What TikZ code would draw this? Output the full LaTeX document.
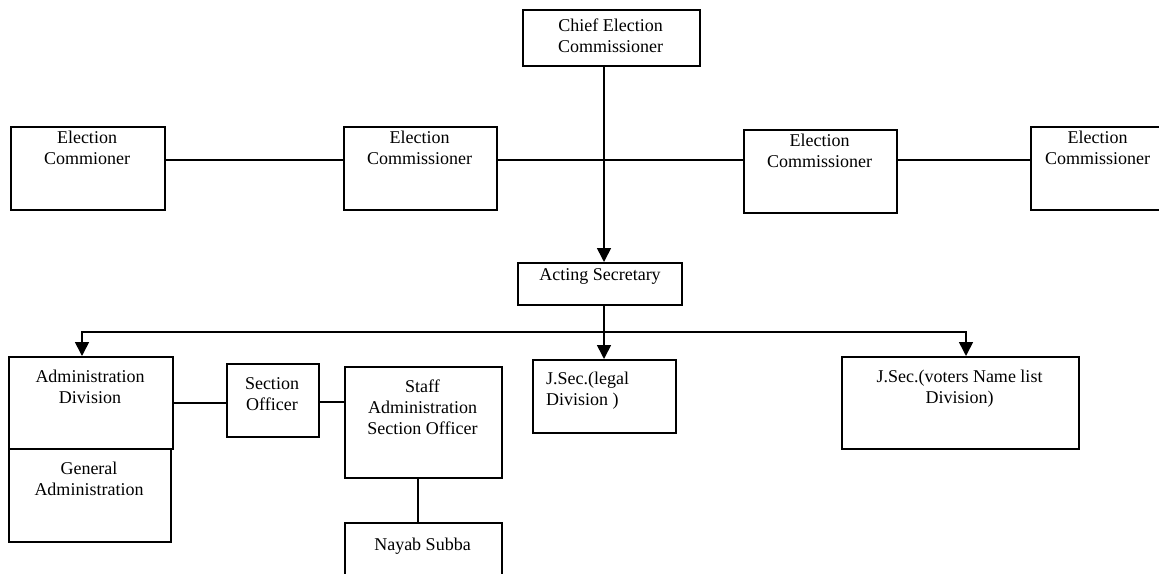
\documentclass[tikz,border=0pt]{standalone}
\usepackage{fontspec}
\setmainfont{Liberation Serif}
\usetikzlibrary{arrows.meta}
\tikzset{
  box/.style={draw, line width=1.6pt, anchor=north west, inner sep=0pt},
  lbl/.style={anchor=north, inner sep=0pt, align=center, font=\fontsize{18}{21}\selectfont, execute at begin node={\rule{0pt}{13pt}}},
  lbll/.style={lbl, anchor=north west, align=left},
  conn/.style={line width=1.6pt},
  arr/.style={line width=1.6pt, -{Triangle[length=14pt,width=14pt]}}
}
\begin{document}
\begin{tikzpicture}[x=1pt,y=-1pt]
\useasboundingbox (0,0) rectangle (1159,573);
\clip (0,0) rectangle (1159,573);
% boxes
\node[box, minimum width=177pt, minimum height=56pt] (chief) at (522,9) {};
\node[box, minimum width=154pt, minimum height=83pt] (ec1) at (10,126) {};
\node[box, minimum width=153pt, minimum height=83pt] (ec2) at (343,126) {};
\node[box, minimum width=153pt, minimum height=83pt] (ec3) at (743,129) {};
\node[box, minimum width=135pt, minimum height=83pt] (ec4) at (1030,126) {};
\node[box, minimum width=164pt, minimum height=42pt] (acting) at (517,262) {};
\node[box, minimum width=164pt, minimum height=92pt] (admin) at (8,356) {};
\node[box, minimum width=162pt, minimum height=93pt] (general) at (8,448) {};
\node[box, minimum width=92pt, minimum height=73pt] (section) at (226,363) {};
\node[box, minimum width=157pt, minimum height=111pt] (staff) at (344,366) {};
\node[box, minimum width=157pt, minimum height=70pt] (nayab) at (344,522) {};
\node[box, minimum width=143pt, minimum height=73pt] (legal) at (532,359) {};
\node[box, minimum width=237pt, minimum height=92pt] (voters) at (841,356) {};
% labels
\node[lbl] (tchief) at (610.5,19) {Chief Election\\Commissioner};
\node[lbl] (tec1) at (87,131) {Election\\Commioner};
\node[lbl] (tec2) at (419.5,131) {Election\\Commissioner};
\node[lbl] (tec3) at (819.5,134) {Election\\Commissioner};
\node[lbl] (tec4) at (1097.5,131) {Election\\Commissioner};
\node[lbl] (tacting) at (600,267) {Acting Secretary};
\node[lbl] (tadmin) at (90,370) {Administration\\Division};
\node[lbl] (tgeneral) at (89,462) {General\\Administration};
\node[lbl] (tsection) at (272,377) {Section\\Officer};
\node[lbl] (tstaff) at (422.5,380) {Staff\\Administration\\Section Officer};
\node[lbl] (tnayab) at (422.5,537) {Nayab Subba};
\node[lbll] (tlegal) at (546,372) {J.Sec.(legal\\Division )};
\node[lbl] (tvoters) at (959.5,370) {J.Sec.(voters Name list\\Division)};
% helper coordinates
\coordinate (spine) at (604,0);
\coordinate (hl) at (0,160);
\coordinate (busc) at (604,332);
\coordinate (busL) at (82,332);
\coordinate (busR) at (966,332);
\coordinate (sl) at (0,403);
\coordinate (sl2) at (0,402);
\coordinate (nv) at (418,0);
% connectors
\draw[conn] (ec1.east |- hl) -- (ec2.west |- hl);
\draw[conn] (ec2.east |- hl) -- (ec3.west |- hl);
\draw[conn] (ec3.east |- hl) -- (ec4.west |- hl);
\draw[arr] (spine |- chief.south) -- (spine |- acting.north);
\draw[conn] (spine |- acting.south) -- (busc);
\draw[arr] (busc) -- (busc |- legal.north);
\draw[arr] (busc) -- (busL) -- (busL |- admin.north);
\draw[arr] (busc) -- (busR) -- (busR |- voters.north);
\draw[conn] (admin.east |- sl) -- (section.west |- sl);
\draw[conn] (section.east |- sl2) -- (staff.west |- sl2);
\draw[conn] (nv |- staff.south) -- (nv |- nayab.north);
\end{tikzpicture}
\end{document}
